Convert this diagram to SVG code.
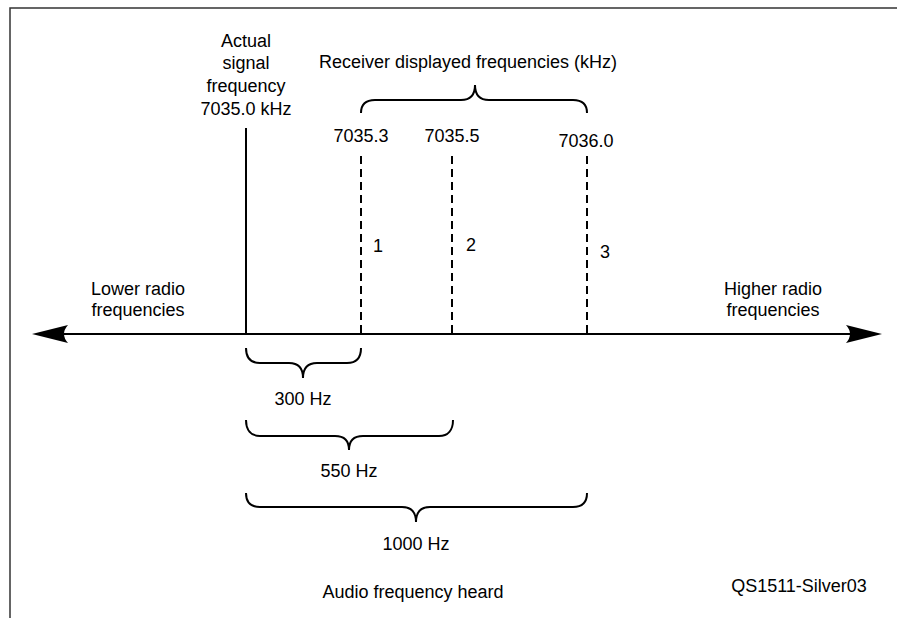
<svg xmlns="http://www.w3.org/2000/svg" width="897" height="618" viewBox="0 0 897 618">
<style>
text{font-family:"Liberation Sans",Arial,sans-serif;font-size:18px;fill:#000;text-anchor:middle}
.frame{fill:none;stroke:#333;stroke-width:1.5}
.solid{stroke:#000;stroke-width:2;fill:none}
.dash{stroke:#000;stroke-width:2;fill:none;stroke-dasharray:8 5}
.brace{stroke:#000;stroke-width:2;fill:none}
.head{fill:#000}
</style>
<rect width="897" height="618" fill="#fff"/>
<path class="frame" d="M10,618 L10,8 L897,8"/>
<g id="connectors">
<line class="solid" x1="60" y1="334" x2="855" y2="334"/>
<path class="head" d="M32,334 L68,325 Q60,334 68,343 Z"/>
<path class="head" d="M882,334 L846,325 Q854,334 846,343 Z"/>
<line class="solid" x1="246" y1="128" x2="246" y2="334"/>
<line class="dash" x1="361" y1="156" x2="361" y2="334"/>
<line class="dash" x1="452" y1="156" x2="452" y2="334"/>
<line class="dash" x1="587" y1="156" x2="587" y2="334"/>
</g>
<g id="brace-top">
<path class="brace" d="M361,113 C361,104 366,100 375,100 L461,100 C470,100 475,95 475,85 C475,95 480,100 489,100 L573,100 C582,100 587,104 587,113"/>
<text x="468" y="68">Receiver displayed frequencies (kHz)</text>
</g>
<g id="actual">
<text x="246" y="47">Actual</text>
<text x="246" y="69">signal</text>
<text x="246" y="92">frequency</text>
<text x="246" y="115">7035.0 kHz</text>
</g>
<g id="f1">
<text x="361" y="142">7035.3</text>
<text x="378" y="252">1</text>
</g>
<g id="f2">
<text x="452" y="142">7035.5</text>
<text x="471" y="251">2</text>
</g>
<g id="f3">
<text x="586" y="147">7036.0</text>
<text x="605" y="258">3</text>
</g>
<g id="lower">
<text x="138" y="295">Lower radio</text>
<text x="138" y="316">frequencies</text>
</g>
<g id="higher">
<text x="773" y="295">Higher radio</text>
<text x="773" y="316">frequencies</text>
</g>
<g id="b300">
<path class="brace" d="M246,348 C246,358 251,363 260,363 L289,363 C298,363 303,368 303,378 C303,368 308,363 317,363 L347,363 C356,363 361,358 361,348"/>
<text x="303" y="405">300 Hz</text>
</g>
<g id="b550">
<path class="brace" d="M246,420 C246,430 251,436 260,436 L335,436 C344,436 349,441 349,450 C349,441 354,436 363,436 L439,436 C448,436 453,430 453,420"/>
<text x="349" y="477">550 Hz</text>
</g>
<g id="b1000">
<path class="brace" d="M246,493 C246,502 251,507 260,507 L402,507 C411,507 416,512 416,522 C416,512 421,507 430,507 L573,507 C582,507 587,502 587,493"/>
<text x="416" y="550">1000 Hz</text>
</g>
<g id="footer">
<text x="413" y="598">Audio frequency heard</text>
<text x="799" y="592">QS1511-Silver03</text>
</g>
</svg>
